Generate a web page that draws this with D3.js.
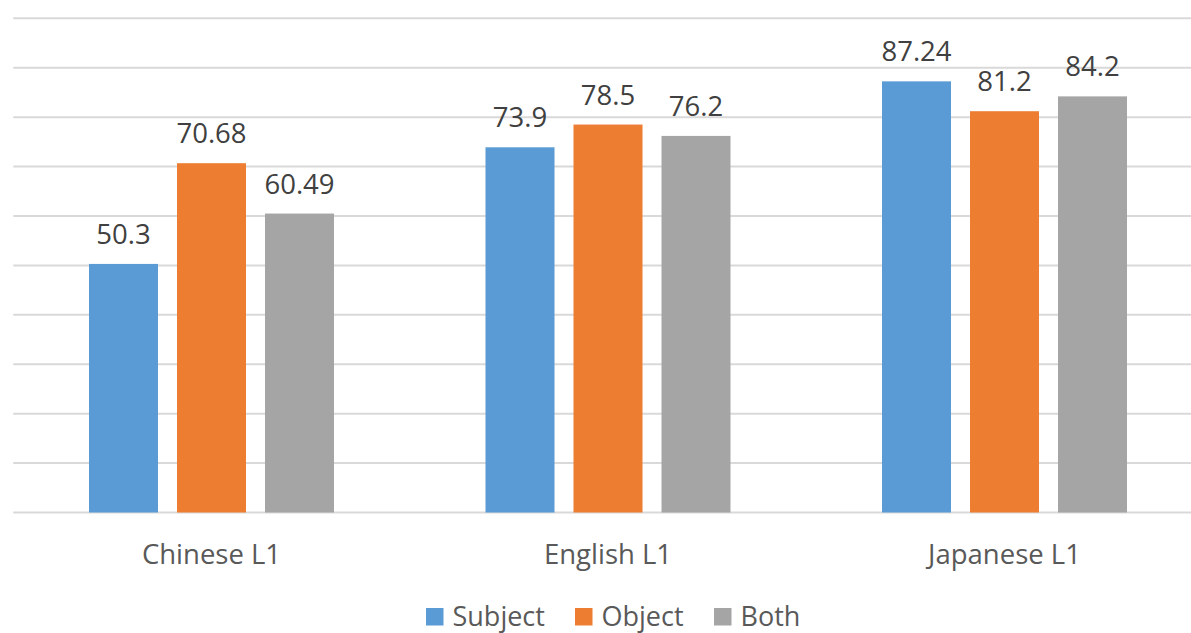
<!DOCTYPE html>
<html>
<head>
<meta charset="utf-8">
<script src="https://cdn.jsdelivr.net/npm/d3@7"></script>
<style>
  html, body { margin: 0; padding: 0; background: #fff; }
  svg { display: block; font-family: "Open Sans", "Noto Sans", sans-serif; }
</style>
</head>
<body>
<svg id="chart" width="1191" height="633"></svg>
<script>
// Accuracy (%) by first language and gap position
const categories = ["Chinese L1", "English L1", "Japanese L1"];
const seriesNames = ["Subject", "Object", "Both"];
const subjectValues = [50.3, 73.9, 87.24];
const objectValues = [70.68, 78.5, 81.2];
const bothValues = [60.49, 76.2, 84.2];
const labelText = {
  Subject: ["50.3", "73.9", "87.24"],
  Object: ["70.68", "78.5", "81.2"],
  Both: ["60.49", "76.2", "84.2"]
};
const yTicks = [0, 10, 20, 30, 40, 50, 60, 70, 80, 90, 100];
const colors = ["#5B9BD5", "#ED7D31", "#A5A5A5"];

const seriesValues = [subjectValues, objectValues, bothValues];

const svg = d3.select("#chart");
const plot = { left: 13.25, right: 1202.75, top: 18.3, bottom: 512.5 };

const x0 = d3.scaleBand()
  .domain(categories)
  .range([plot.left, plot.right])
  .paddingInner(0)
  .paddingOuter(0);

const groupWidth = 245;
const x1 = d3.scaleBand()
  .domain(seriesNames)
  .range([0, groupWidth])
  .paddingInner(19 / 88)
  .paddingOuter(0);

const y = d3.scaleLinear().domain([0, 100]).range([plot.bottom, plot.top]);
const color = d3.scaleOrdinal().domain(seriesNames).range(colors);

// Horizontal gridlines
svg.append("g")
  .selectAll("line")
  .data(yTicks)
  .join("line")
  .attr("x1", plot.left)
  .attr("x2", plot.right)
  .attr("y1", d => y(d))
  .attr("y2", d => y(d))
  .attr("stroke", "#D9D9D9")
  .attr("stroke-width", 2);

const groupOffset = (x0.bandwidth() - groupWidth) / 2;

const rows = [];
categories.forEach((c, i) => {
  seriesNames.forEach((s, j) => {
    rows.push({ category: c, series: s, value: seriesValues[j][i], label: labelText[s][i] });
  });
});

const bars = svg.append("g");
bars.selectAll("rect")
  .data(rows)
  .join("rect")
  .attr("x", d => x0(d.category) + groupOffset + x1(d.series))
  .attr("y", d => y(d.value))
  .attr("width", x1.bandwidth())
  .attr("height", d => y(0) - y(d.value))
  .attr("fill", d => color(d.series));

// Value labels above bars
svg.append("g")
  .selectAll("text")
  .data(rows)
  .join("text")
  .attr("x", d => x0(d.category) + groupOffset + x1(d.series) + x1.bandwidth() / 2)
  .attr("y", d => y(d.value) - 20)
  .attr("text-anchor", "middle")
  .attr("font-size", 27.5)
  .attr("fill", "#404040")
  .text(d => d.label);

// Category axis labels
svg.append("g")
  .selectAll("text")
  .data(categories)
  .join("text")
  .attr("x", d => x0(d) + x0.bandwidth() / 2)
  .attr("y", 564)
  .attr("text-anchor", "middle")
  .attr("font-size", 27.5)
  .attr("fill", "#595959")
  .text(d => d);

// Legend
const legendX = [426, 575, 714];
const legend = svg.append("g");
seriesNames.forEach((s, i) => {
  legend.append("rect")
    .attr("x", legendX[i])
    .attr("y", 608)
    .attr("width", 17.5)
    .attr("height", 17.5)
    .attr("fill", color(s));
  legend.append("text")
    .attr("x", legendX[i] + 26.5)
    .attr("y", 626)
    .attr("font-size", 27)
    .attr("fill", "#595959")
    .text(s);
});
</script>
</body>
</html>
